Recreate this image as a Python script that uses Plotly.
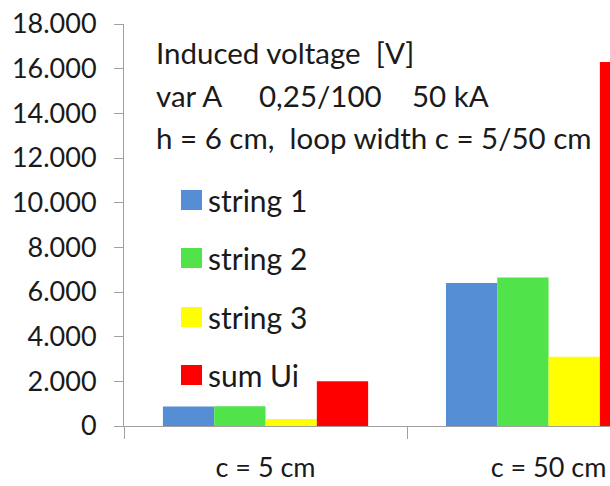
import plotly.graph_objects as go

categories = ["c = 5 cm", "c = 50 cm"]
series_names = ["string 1", "string 2", "string 3", "sum Ui"]
string1 = [870, 6400]
string2 = [880, 6650]
string3 = [310, 3100]
sum_ui = [2000, 16300]
y_tick_vals = [0, 2000, 4000, 6000, 8000, 10000, 12000, 14000, 16000, 18000]
y_tick_text = ["0", "2.000", "4.000", "6.000", "8.000", "10.000", "12.000", "14.000", "16.000", "18.000"]
title_lines = ["Induced voltage  [V]", "var A     0,25/100    50 kA", "h = 6 cm,  loop width c = 5/50 cm"]
colors = ["#558ED5", "#50E34A", "#FFFF00", "#FF0000"]

W, H = 610, 486
L, R, T, B = 124, 0, 24, 60
pw, ph = W - L - R, H - T - B

def px(x):
    return (x - L) / pw

def py(y):
    return (H - B - y) / ph

FONT = "Lato"
TXT = "#1a1a1a"

fig = go.Figure()
for name, vals, col in zip(series_names, [string1, string2, string3, sum_ui], colors):
    fig.add_trace(go.Bar(x=categories, y=vals, name=name, marker=dict(color=col, line=dict(width=0)),
                         showlegend=False))

annotations = []
for i, line in enumerate(title_lines):
    annotations.append(dict(text=line, xref="paper", yref="paper", x=px(154), y=py([52, 95, 137][i]),
                            xanchor="left", yanchor="middle", showarrow=False,
                            font=dict(family=FONT, size=29.5, color=TXT)))

shapes = []
leg_y = [200, 258, 317, 375]
for name, col, yc in zip(series_names, colors, leg_y):
    shapes.append(dict(type="rect", xref="paper", yref="paper", x0=px(181), x1=px(202),
                       y0=py(yc + 10), y1=py(yc - 10), fillcolor=col, line=dict(width=0)))
    annotations.append(dict(text=name, xref="paper", yref="paper", x=px(206), y=py(yc),
                            xanchor="left", yanchor="middle", showarrow=False,
                            font=dict(family=FONT, size=30, color=TXT)))

fig.update_layout(
    width=W, height=H,
    margin=dict(l=L, r=R, t=T, b=B, pad=0),
    paper_bgcolor="white", plot_bgcolor="white",
    barmode="group", bargap=0.275, bargroupgap=0,
    font=dict(family=FONT, color=TXT),
    annotations=annotations, shapes=shapes,
    xaxis=dict(type="category", range=[-0.5, 1.217], showgrid=False, showline=True, automargin=False,
               linecolor="#A0A0A0", linewidth=1, ticks="outside", tickson="boundaries",
               ticklen=12, tickcolor="#A0A0A0", tickfont=dict(family=FONT, size=27, color=TXT),
               ticklabelstandoff=18),
    yaxis=dict(range=[0, 18000], tickvals=y_tick_vals, ticktext=y_tick_text, showgrid=False,
               automargin=False, ticklabeloverflow="allow",
               zeroline=False, showline=True, linecolor="#A0A0A0", linewidth=1, ticks="outside",
               ticklen=9, tickcolor="#A0A0A0", tickfont=dict(family=FONT, size=27, color=TXT),
               ticklabelstandoff=12),
)

# remove the browser's default 8px page margin so the figure fills the window exactly
fig.write_html("out.html", config={"displayModeBar": False},
               post_script="document.body.style.margin='0';")
